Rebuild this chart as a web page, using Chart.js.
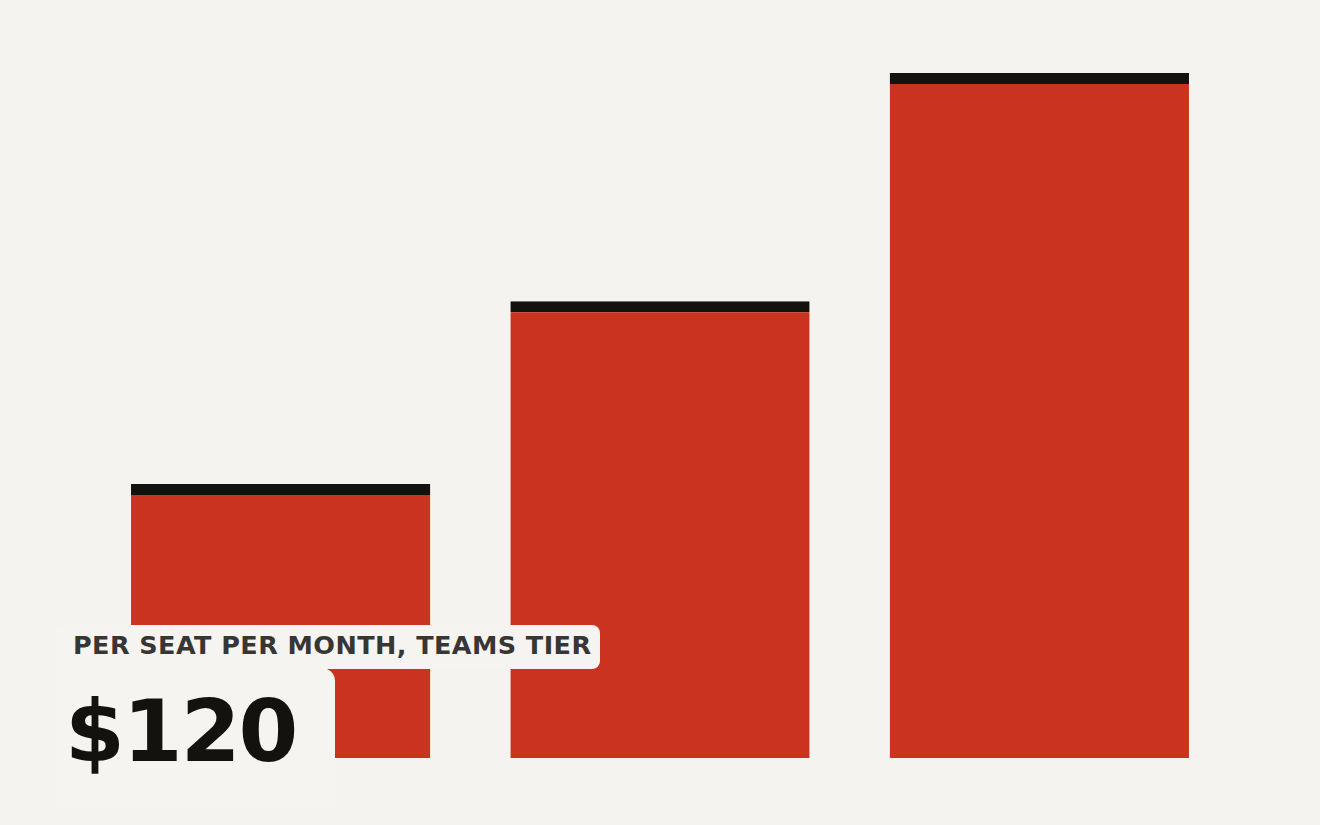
<!DOCTYPE html>
<html>
<head>
<meta charset="utf-8">
<script src="https://cdn.jsdelivr.net/npm/chart.js@4/dist/chart.umd.min.js"></script>
<style>
  html, body { margin: 0; padding: 0; background: #f4f3ef; }
  #wrap { position: relative; width: 1320px; height: 825px; overflow: hidden; }
  canvas { position: absolute; left: 0; top: 0; }
  .box { position: absolute; background: #f5f4f0; }
  .txt { position: absolute; font-family: "DejaVu Sans", sans-serif; font-weight: bold; white-space: nowrap; }
</style>
</head>
<body>
<div id="wrap">
  <canvas id="c" width="1320" height="825"></canvas>
  <div class="box" style="left:56px;top:625px;width:544px;height:44px;border-radius:8px;"></div>
  <div class="box" style="left:56px;top:668px;width:279px;height:140px;border-top-right-radius:13px;"></div>
  <div class="txt" id="sub" style="left:73px;top:632px;font-size:25.5px;line-height:26px;letter-spacing:0.42px;color:#383632;"></div>
  <div class="txt" id="big" style="left:65px;top:688px;font-size:86px;line-height:86px;letter-spacing:-2px;color:#13120e;"></div>
</div>
<script>
const categories = ["Tier 1", "Tier 2", "Tier 3"];
const prices = [120, 200, 300];
const subtitleText = "PER SEAT PER MONTH, TEAMS TIER";
const headlineText = "$120";

document.getElementById('sub').textContent = subtitleText;
document.getElementById('big').textContent = headlineText;

new Chart(document.getElementById('c'), {
  type: 'bar',
  data: {
    labels: categories,
    datasets: [{
      data: prices,
      backgroundColor: '#c9331f',
      borderColor: '#14120e',
      borderWidth: { top: 11, left: 0, right: 0, bottom: 0 },
      borderSkipped: 'bottom',
      categoryPercentage: 1,
      barPercentage: 0.789
    }]
  },
  options: {
    responsive: false,
    devicePixelRatio: 1,
    animation: false,
    layout: { padding: { left: 91, right: 91, top: 73, bottom: 67 } },
    plugins: { legend: { display: false }, tooltip: { enabled: false } },
    scales: {
      x: { display: false },
      y: { display: false, min: 0, max: 300 }
    }
  }
});
</script>
</body>
</html>
